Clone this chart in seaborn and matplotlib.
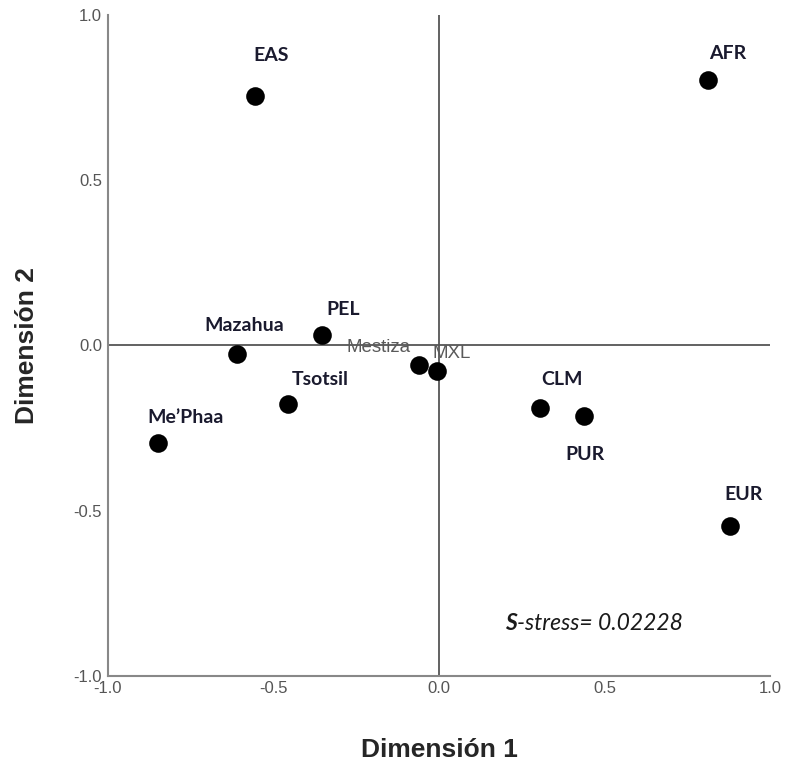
import matplotlib
matplotlib.use("Agg")
import matplotlib.pyplot as plt
import seaborn as sns
import pandas as pd

# MDS coordinates
grupos = ["EAS", "AFR", "Mazahua", "PEL", "Mestiza", "MXL", "Tsotsil",
          "Me\u2019Phaa", "CLM", "PUR", "EUR"]
dim1 = [-0.556, 0.813, -0.610, -0.353, -0.060, -0.006, -0.456, -0.849, 0.305, 0.438, 0.879]
dim2 = [0.755, 0.803, -0.026, 0.032, -0.059, -0.077, -0.177, -0.295, -0.189, -0.213, -0.546]

# label offsets in pixels (dx, dy) and style
offsets = {
    "EAS": (16, 41), "AFR": (19, 27), "Mazahua": (7, 29), "PEL": (21, 25),
    "Mestiza": (-41, 17), "MXL": (15, 17), "Tsotsil": (32, 24),
    "Me\u2019Phaa": (28, 25), "CLM": (22, 28), "PUR": (1, -39), "EUR": (13, 31),
}
gris = ["Mestiza", "MXL"]

df = pd.DataFrame({"grupo": grupos, "Dimension 1": dim1, "Dimension 2": dim2})

sns.set_style("white")
plt.rcParams["font.family"] = ["Liberation Sans", "DejaVu Sans"]

fig = plt.figure(figsize=(7.86, 7.61), dpi=100)
ax = fig.add_axes([0.137, 0.112, 0.843, 0.868])

ax.axhline(0, color="#555555", lw=1.3, zorder=1)
ax.axvline(0, color="#555555", lw=1.3, zorder=1)

sns.scatterplot(data=df, x="Dimension 1", y="Dimension 2", color="black",
                s=180, edgecolor="black", linewidth=0, zorder=3, ax=ax)

for g, x, y in zip(grupos, dim1, dim2):
    dx, dy = offsets[g]
    if g in gris:
        ax.annotate(g, (x, y), xytext=(dx, dy), textcoords="offset pixels",
                    ha="center", va="center", fontsize=13.5, color="#5a5a5a",
                    family=["Liberation Sans"])
    else:
        ax.annotate(g, (x, y), xytext=(dx, dy), textcoords="offset pixels",
                    ha="center", va="center", fontsize=14, fontweight="bold",
                    color="#1a1a2e", family=["Lato", "DejaVu Sans"])

ax.set_xlim(-1, 1)
ax.set_ylim(-1, 1)
ticks = [-1.0, -0.5, 0.0, 0.5, 1.0]
ax.set_xticks(ticks)
ax.set_yticks(ticks)
ax.set_xticklabels(["%.1f" % t for t in ticks])
ax.set_yticklabels(["%.1f" % t for t in ticks])
ax.tick_params(axis="both", length=0, labelsize=12, labelcolor="#555555", pad=4)

for side in ["top", "right"]:
    ax.spines[side].set_visible(False)
for side in ["left", "bottom"]:
    ax.spines[side].set_color("#888888")
    ax.spines[side].set_linewidth(1.5)

ax.set_xlabel("Dimensión 1", fontsize=19, fontweight="bold", labelpad=30)
ax.set_ylabel("Dimensión 2", fontsize=19, fontweight="bold", labelpad=25)

# S-stress note: bold italic S followed by italic text
s_txt = ax.text(0.2, -0.843, "S", fontsize=16.5, style="italic", fontweight="bold",
                ha="left", va="center", color="#1a1a1a", family=["Lato", "DejaVu Sans"])
ax.annotate("-stress= 0.02228", xy=(1, 0.5), xycoords=s_txt, fontsize=16.5,
            style="italic", ha="left", va="center", color="#1a1a1a",
            family=["Lato", "DejaVu Sans"])

fig.savefig("out.png", dpi=100)
